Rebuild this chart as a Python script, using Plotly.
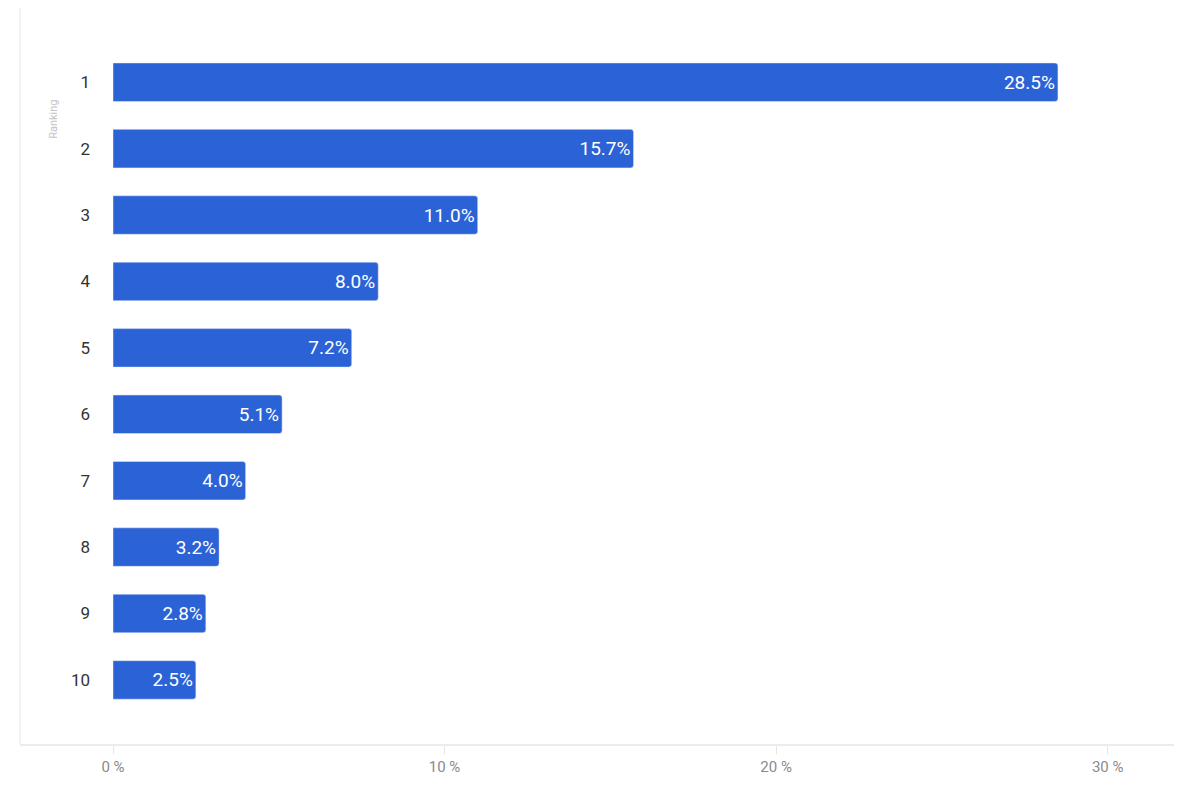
import plotly.graph_objects as go

rankings = [1, 2, 3, 4, 5, 6, 7, 8, 9, 10]
shares = [28.5, 15.7, 11.0, 8.0, 7.2, 5.1, 4.0, 3.2, 2.8, 2.5]
x_ticks = [0, 10, 20, 30]
x_tick_labels = ["0 %", "10 %", "20 %", "30 %"]

fig = go.Figure()

fig.add_trace(go.Bar(
    x=shares, y=rankings, orientation="h",
    marker=dict(color="#2B63D6"),
    width=0.58,
    text=[f"{v:.1f}%" for v in shares],
    textposition="inside", insidetextanchor="end",
    textfont=dict(color="white", size=19, family="Roboto"),
))

fig.update_xaxes(
    range=[0, 32], tickvals=x_ticks, ticktext=x_tick_labels,
    showgrid=False, zeroline=False, showline=False,
    ticks="outside", ticklen=8, tickcolor="#e6e6e6",
    tickfont=dict(size=15, color="#8a8a8a", family="Roboto"),
)
fig.update_yaxes(
    range=[10.98, 0.5], tickvals=rankings, ticktext=[str(r) for r in rankings],
    showgrid=False, zeroline=False, showline=False,
    ticks="", ticklabelstandoff=22,
    tickfont=dict(size=17, color="#333333", family="Roboto"),
)

# card frame and baseline
fig.add_shape(type="line", xref="paper", yref="paper", x0=-0.0877, x1=1.0, y0=0, y1=0,
              line=dict(color="#e6e6e6", width=1.5))
fig.add_shape(type="line", xref="paper", yref="paper", x0=-0.0877, x1=-0.0877, y0=0, y1=1.07,
              line=dict(color="#eeeeee", width=1.5))

fig.add_annotation(text="Ranking", xref="paper", yref="paper", x=-0.064, y=0.93,
                   textangle=-90, showarrow=False,
                   font=dict(size=11, color="#c4c4c4", family="Roboto"))

fig.update_layout(
    width=1184, height=785,
    margin=dict(l=105, r=18, t=41, b=48),
    plot_bgcolor="white", paper_bgcolor="white",
    barcornerradius=3, showlegend=False,
)

fig.write_html("out.html")
